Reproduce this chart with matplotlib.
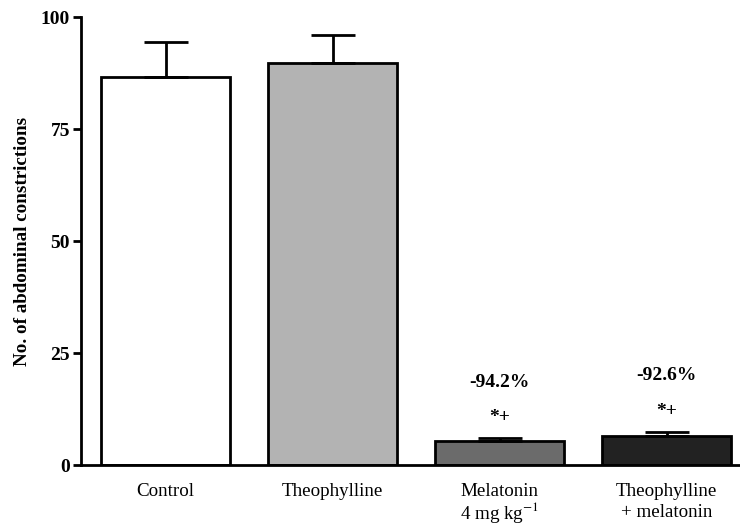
import matplotlib
matplotlib.use("Agg")
import matplotlib.pyplot as plt
from matplotlib.transforms import blended_transform_factory

categories = ["Control", "Theophylline", "Melatonin\n4 mg kg$^{-1}$", "Theophylline\n+ melatonin"]
means = [86.6, 89.7, 5.4, 6.5]
errors = [7.8, 6.3, 0.6, 0.9]
colors = ["#ffffff", "#b3b3b3", "#6b6b6b", "#222222"]
pct_labels = [None, None, "-94.2%", "-92.6%"]
sig_labels = [None, None, "*+", "*+"]
yticks = [0, 25, 50, 75, 100]

plt.rcParams["font.family"] = ["Liberation Serif", "DejaVu Serif"]
plt.rcParams["mathtext.fontset"] = "stix"

fig = plt.figure(figsize=(7.4, 5.27), dpi=100)
ax = fig.add_axes([0.1095, 0.1176, 0.8905, 0.8501])

x = list(range(len(categories)))
ax.bar(x, means, width=0.77, color=colors, edgecolor="black", linewidth=2, zorder=2)
ax.errorbar(x, means, yerr=[[0] * len(errors), errors], fmt="none", ecolor="black",
            elinewidth=2, capsize=16, capthick=2, zorder=3)

for xi, m, e, p, s in zip(x, means, errors, pct_labels, sig_labels):
    if p:
        ax.text(xi, m + e + 4.5, s, ha="center", va="center", fontsize=14, fontweight="bold")
        ax.text(xi, m + e + 12.5, p, ha="center", va="center", fontsize=14, fontweight="bold")

ax.set_xlim(-0.506, 3.44)
ax.set_ylim(0, 100)
ax.set_yticks(yticks)
ax.set_yticklabels([str(t) for t in yticks], fontsize=14, fontweight="bold")
ax.set_xticks([])

# category labels, placed below the baseline
trans = blended_transform_factory(ax.transData, ax.transAxes)
for xi, name in zip(x, categories):
    ls = 1.0 if "$" in name else 1.3
    ax.text(xi, -0.04, name, transform=trans, ha="center", va="top",
            fontsize=13.7, linespacing=ls, multialignment="center")

ax.tick_params(axis="y", direction="out", length=6, width=2, pad=2)
ax.set_ylabel("No. of abdominal constrictions", fontsize=13.7, fontweight="bold", labelpad=7)

for side in ("top", "right"):
    ax.spines[side].set_visible(False)
for side in ("left", "bottom"):
    ax.spines[side].set_linewidth(2)

fig.savefig("out.png", dpi=100)
